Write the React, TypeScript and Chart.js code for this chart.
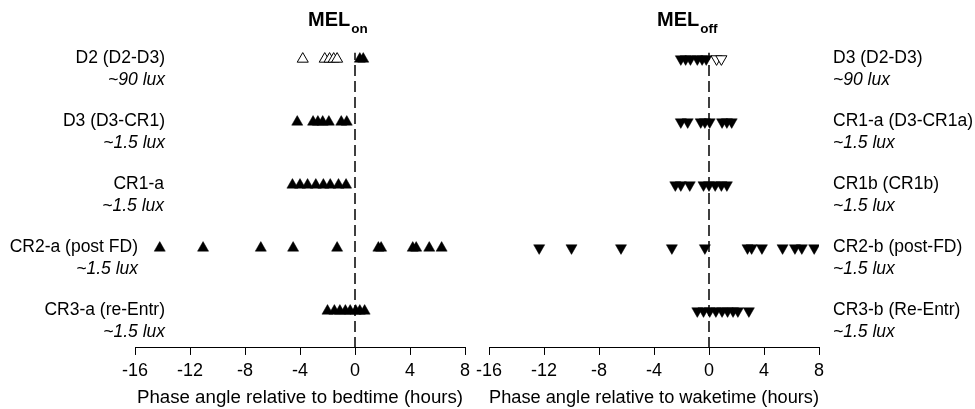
import React, { useEffect, useRef } from "react";
import { Chart, registerables } from "chart.js";

Chart.register(...registerables);

const FONT = "'Liberation Sans', Arial, Helvetica, sans-serif";

// Rows (top to bottom)
const rowValues = [5, 4, 3, 2, 1];
const onRowLabels = ["D2 (D2-D3)", "D3 (D3-CR1)", "CR1-a", "CR2-a (post FD)", "CR3-a (re-Entr)"];
const onRowLux = ["~90 lux", "~1.5 lux", "~1.5 lux", "~1.5 lux", "~1.5 lux"];
const offRowLabels = ["D3 (D2-D3)", "CR1-a (D3-CR1a)", "CR1b (CR1b)", "CR2-b (post-FD)", "CR3-b (Re-Entr)"];
const offRowLux = ["~90 lux", "~1.5 lux", "~1.5 lux", "~1.5 lux", "~1.5 lux"];
const xTicks = [-16, -12, -8, -4, 0, 4, 8];

// MEL onset, phase angle relative to bedtime (hours)
const onD2Open = [-3.8, -2.2, -1.85, -1.55, -1.3];
const onD2Filled = [0.35, 0.6];
const onD3 = [-4.2, -3.05, -2.7, -2.35, -1.9, -1.0, -0.6];
const onCR1a = [-4.55, -4.0, -3.45, -2.85, -2.3, -1.8, -1.2, -0.65];
const onCR2a = [-14.2, -11.05, -6.85, -4.5, -1.3, 1.7, 1.9, 4.2, 4.45, 5.4, 6.3];
const onCR3a = [-2.0, -1.5, -1.1, -0.7, -0.35, 0.05, 0.35, 0.7];

// MEL offset, phase angle relative to waketime (hours)
const offD3Filled = [-2.05, -1.7, -1.35, -0.85, -0.5, -0.2];
const offD3Open = [0.55, 0.9];
const offCR1a = [-2.05, -1.55, -0.6, -0.3, 0.05, 0.95, 1.3, 1.65];
const offCR1b = [-2.45, -2.05, -1.4, -0.4, 0, 0.45, 0.9, 1.3];
const offCR2b = [-12.35, -10.0, -6.4, -2.7, -0.3, 2.8, 3.1, 3.85, 5.35, 6.25, 6.75, 7.65];
const offCR3b = [-0.85, -0.4, 0.05, 0.5, 0.95, 1.35, 1.75, 2.1, 2.9];

const pts = (vals: number[], row: number) => vals.map((x) => ({ x, y: row }));

function markerSet(vals: number[], row: number, down: boolean, open: boolean) {
  return {
    type: "scatter" as const,
    data: pts(vals, row),
    pointStyle: "triangle",
    rotation: down ? 180 : 0,
    pointRadius: 6.4,
    pointHoverRadius: 6.4,
    backgroundColor: open ? "#ffffff" : "#000000",
    borderColor: "#000000",
    borderWidth: open ? 1 : 0.5,
    order: 0,
  };
}

function dashedZero() {
  return {
    type: "line" as const,
    data: [
      { x: 0, y: 0.413 },
      { x: 0, y: 5.1 },
    ],
    borderColor: "#000000",
    borderWidth: 1.5,
    borderDash: [11, 5],
    pointRadius: 0,
    showLine: true,
    fill: false,
    order: 10,
  };
}

type LabelCfg = {
  labels: string[];
  lux: string[];
  align: "left" | "right";
  xs: number[];
  title: [string, string];
  titleX: number;
};

function makeLabelPlugin(cfg: LabelCfg) {
  return {
    id: "rowLabels",
    afterDraw(chart: any) {
      const ctx = chart.ctx;
      const y = chart.scales.y;
      ctx.save();
      ctx.fillStyle = "#000";
      ctx.textAlign = cfg.align;
      ctx.textBaseline = "middle";
      rowValues.forEach((rv, i) => {
        const py = y.getPixelForValue(rv);
        ctx.font = `17.5px ${FONT}`;
        ctx.fillText(cfg.labels[i], cfg.xs[i], py - 1);
        ctx.font = `italic 17.5px ${FONT}`;
        ctx.fillText(cfg.lux[i], cfg.xs[i], py + 21);
      });
      // Title with subscript
      ctx.textAlign = "left";
      ctx.textBaseline = "alphabetic";
      ctx.font = `bold 20px ${FONT}`;
      ctx.fillText(cfg.title[0], cfg.titleX, 26);
      const w = ctx.measureText(cfg.title[0]).width;
      ctx.font = `bold 13.5px ${FONT}`;
      ctx.fillText(cfg.title[1], cfg.titleX + w + 1, 33);
      ctx.restore();
    },
  };
}

function buildConfig(datasets: any[], axisTitle: string, padL: number, padR: number, plugin: any) {
  return {
    type: "scatter" as const,
    data: { datasets },
    options: {
      responsive: false,
      animation: false as const,
      devicePixelRatio: 1,
      layout: { padding: { left: padL, right: padR, top: 30, bottom: 0 } },
      plugins: { legend: { display: false }, tooltip: { enabled: false } },
      scales: {
        x: {
          type: "linear" as const,
          min: -16,
          max: 8,
          afterBuildTicks: (axis: any) => {
            axis.ticks = xTicks.map((v) => ({ value: v }));
          },
          grid: {
            display: true,
            drawOnChartArea: false,
            drawTicks: true,
            tickLength: 7,
            color: "#000",
            lineWidth: 1,
          },
          border: { display: true, color: "#000", width: 1 },
          ticks: {
            color: "#000",
            padding: 5,
            font: { family: FONT, size: 18 },
            maxRotation: 0,
          },
          title: {
            display: true,
            text: axisTitle,
            color: "#000",
            padding: { top: 0, bottom: 0 },
            font: { family: FONT, size: 18.7 },
          },
        },
        y: { type: "linear" as const, min: 0.413, max: 5.46, display: false },
      },
    },
    plugins: [plugin],
  };
}

export default function App() {
  const leftRef = useRef<HTMLCanvasElement>(null);
  const rightRef = useRef<HTMLCanvasElement>(null);

  useEffect(() => {
    const leftSets = [
      markerSet(onD2Open, 5, false, true),
      markerSet(onD2Filled, 5, false, false),
      markerSet(onD3, 4, false, false),
      markerSet(onCR1a, 3, false, false),
      markerSet(onCR2a, 2, false, false),
      markerSet(onCR3a, 1, false, false),
      dashedZero(),
    ];
    const rightSets = [
      markerSet(offD3Filled, 5, true, false),
      markerSet(offD3Open, 5, true, true),
      markerSet(offCR1a, 4, true, false),
      markerSet(offCR1b, 3, true, false),
      markerSet(offCR2b, 2, true, false),
      markerSet(offCR3b, 1, true, false),
      dashedZero(),
    ];
    const leftPlugin = makeLabelPlugin({
      labels: onRowLabels,
      lux: onRowLux,
      align: "right",
      xs: [165, 165, 164, 138, 165],
      title: ["MEL", "on"],
      titleX: 308,
    });
    const rightPlugin = makeLabelPlugin({
      labels: offRowLabels,
      lux: offRowLux,
      align: "left",
      xs: [363, 363, 363, 363, 363],
      title: ["MEL", "off"],
      titleX: 187,
    });
    const c1 = new Chart(
      leftRef.current as HTMLCanvasElement,
      buildConfig(leftSets, "Phase angle relative to bedtime (hours)", 135, 15, leftPlugin) as any
    );
    const c2 = new Chart(
      rightRef.current as HTMLCanvasElement,
      buildConfig(rightSets, "Phase angle relative to waketime (hours)", 19, 156, rightPlugin) as any
    );
    return () => {
      c1.destroy();
      c2.destroy();
    };
  }, []);

  return (
    <div style={{ position: "fixed", left: 0, top: 0, width: 975, height: 409, background: "#fff" }}>
      <canvas
        ref={leftRef}
        width={480}
        height={409}
        style={{ position: "absolute", left: 0, top: 0, width: 480, height: 409 }}
      />
      <canvas
        ref={rightRef}
        width={505}
        height={409}
        style={{ position: "absolute", left: 470, top: 0, width: 505, height: 409 }}
      />
    </div>
  );
}
